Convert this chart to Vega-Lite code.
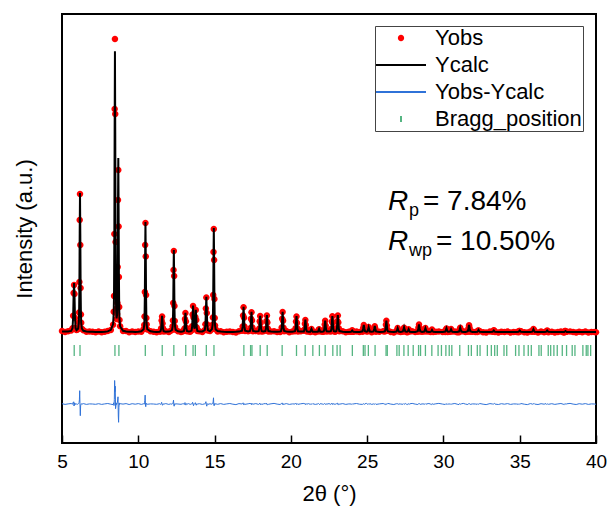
{
"$schema":"https://vega.github.io/schema/vega-lite/v6.json",
"width":534,"height":429,
"autosize":{"type":"none"},
"padding":{"left":62,"top":14,"right":16,"bottom":63},
"config":{"font":"Liberation Sans","view":{"stroke":"#000000","strokeWidth":2},"axis":{"grid":false}},
"datasets":{
"profile":[
{"x":5.0,"o":590,"c":560,"d":-6670},{"x":5.2,"o":510,"c":550,"d":-6740},{"x":5.4,"o":570,"c":560,"d":-6690},{"x":5.6,"o":660,"c":610,"d":-6650},
{"x":5.69,"o":870,"c":890,"d":-6720},{"x":5.73,"o":2120,"c":1970,"d":-6550},{"x":5.76,"o":4400,"c":4180,"d":-6480},{"x":5.79,"o":5200,"c":5400,"d":-6900},{"x":5.82,"o":4300,"c":4180,"d":-6580},{"x":5.85,"o":1890,"c":1970,"d":-6780},{"x":5.89,"o":930,"c":890,"d":-6660},{"x":5.95,"o":690,"c":690,"d":-6700},{"x":6.02,"o":750,"c":780,"d":-6730},
{"x":6.06,"o":870,"c":850,"d":-6680},{"x":6.10,"o":1460,"c":1400,"d":-6640},{"x":6.12,"o":2460,"c":2310,"d":-6550},{"x":6.14,"o":5500,"c":5090,"d":-6290},{"x":6.16,"o":11700,"c":10370,"d":-5370},{"x":6.18,"o":14300,"c":14400,"d":-6800},{"x":6.20,"o":9200,"c":10370,"d":-7870},{"x":6.22,"o":4900,"c":5090,"d":-6890},{"x":6.24,"o":2250,"c":2310,"d":-6760},{"x":6.26,"o":1430,"c":1400,"d":-6670},{"x":6.30,"o":830,"c":850,"d":-6720},
{"x":6.4,"o":665,"c":625,"d":-6660},{"x":6.6,"o":520,"c":560,"d":-6740},{"x":6.8,"o":540,"c":530,"d":-6690},{"x":7.0,"o":520,"c":520,"d":-6700},{"x":7.2,"o":480,"c":510,"d":-6730},{"x":7.4,"o":540,"c":510,"d":-6670},{"x":7.6,"o":470,"c":510,"d":-6740},{"x":7.8,"o":530,"c":520,"d":-6690},{"x":8.0,"o":610,"c":560,"d":-6650},{"x":8.2,"o":700,"c":720,"d":-6720},
{"x":8.35,"o":1230,"c":1290,"d":-6760},{"x":8.39,"o":2530,"c":2410,"d":-6580},{"x":8.41,"o":4090,"c":4240,"d":-6850},{"x":8.43,"o":10300,"c":9830,"d":-6230},{"x":8.45,"o":22800,"c":20450,"d":-4350},{"x":8.47,"o":29800,"c":28570,"d":-5470},{"x":8.49,"o":22300,"c":20520,"d":-4920},{"x":8.51,"o":9500,"c":9970,"d":-7170},{"x":8.53,"o":4200,"c":4460,"d":-6960},{"x":8.55,"o":2800,"c":2690,"d":-6590},{"x":8.58,"o":1800,"c":1860,"d":-6760},{"x":8.61,"o":2300,"c":2240,"d":-6640},{"x":8.63,"o":3400,"c":3230,"d":-6530},{"x":8.65,"o":7000,"c":6600,"d":-6300},{"x":8.67,"o":13700,"c":12980,"d":-5980},{"x":8.69,"o":16700,"c":17900,"d":-7900},{"x":8.71,"o":11050,"c":12880,"d":-8530},{"x":8.73,"o":6000,"c":6340,"d":-7040},{"x":8.75,"o":3000,"c":2890,"d":-6590},{"x":8.77,"o":1700,"c":1750,"d":-6750},{"x":8.81,"o":1080,"c":1050,"d":-6670},
{"x":9.0,"o":610,"c":620,"d":-6710},{"x":9.2,"o":600,"c":560,"d":-6660},{"x":9.4,"o":480,"c":530,"d":-6750},{"x":9.6,"o":550,"c":520,"d":-6670},{"x":9.8,"o":490,"c":510,"d":-6720},{"x":10.0,"o":560,"c":520,"d":-6660},{"x":10.2,"o":530,"c":570,"d":-6740},
{"x":10.35,"o":800,"c":775,"d":-6675},{"x":10.39,"o":1200,"c":1215,"d":-6715},{"x":10.41,"o":2050,"c":1930,"d":-6580},{"x":10.43,"o":4500,"c":4130,"d":-6330},{"x":10.45,"o":9200,"c":8310,"d":-5810},{"x":10.47,"o":11400,"c":11500,"d":-6800},{"x":10.49,"o":8040,"c":8310,"d":-6970},{"x":10.51,"o":4200,"c":4130,"d":-6630},{"x":10.53,"o":1900,"c":1930,"d":-6730},{"x":10.55,"o":1250,"c":1215,"d":-6665},{"x":10.59,"o":750,"c":775,"d":-6725},
{"x":10.8,"o":580,"c":570,"d":-6690},{"x":11.0,"o":520,"c":520,"d":-6700},{"x":11.2,"o":480,"c":510,"d":-6730},{"x":11.4,"o":560,"c":530,"d":-6670},
{"x":11.46,"o":540,"c":580,"d":-6740},{"x":11.50,"o":880,"c":830,"d":-6650},{"x":11.53,"o":1650,"c":1480,"d":-6530},{"x":11.56,"o":2050,"c":2130,"d":-6780},{"x":11.59,"o":1360,"c":1480,"d":-6820},{"x":11.62,"o":870,"c":830,"d":-6660},{"x":11.66,"o":560,"c":580,"d":-6720},
{"x":11.8,"o":570,"c":530,"d":-6660},{"x":12.0,"o":500,"c":540,"d":-6740},{"x":12.1,"o":590,"c":580,"d":-6690},
{"x":12.21,"o":690,"c":705,"d":-6715},{"x":12.25,"o":1070,"c":1030,"d":-6660},{"x":12.27,"o":1650,"c":1570,"d":-6620},{"x":12.29,"o":3400,"c":3210,"d":-6510},{"x":12.31,"o":6700,"c":6320,"d":-6320},{"x":12.33,"o":8600,"c":8700,"d":-6800},{"x":12.35,"o":6100,"c":6320,"d":-6920},{"x":12.37,"o":3100,"c":3210,"d":-6810},{"x":12.39,"o":1600,"c":1570,"d":-6670},{"x":12.41,"o":1000,"c":1030,"d":-6730},{"x":12.45,"o":720,"c":705,"d":-6685},
{"x":12.6,"o":570,"c":570,"d":-6700},{"x":12.8,"o":500,"c":530,"d":-6730},{"x":12.9,"o":560,"c":540,"d":-6680},
{"x":12.99,"o":620,"c":600,"d":-6680},{"x":13.03,"o":850,"c":890,"d":-6740},{"x":13.06,"o":1800,"c":1660,"d":-6560},{"x":13.09,"o":2400,"c":2430,"d":-6730},{"x":13.12,"o":1550,"c":1660,"d":-6810},{"x":13.15,"o":920,"c":890,"d":-6670},{"x":13.19,"o":580,"c":600,"d":-6720},
{"x":13.3,"o":580,"c":540,"d":-6660},{"x":13.4,"o":520,"c":560,"d":-6740},
{"x":13.49,"o":640,"c":630,"d":-6690},{"x":13.53,"o":1070,"c":1030,"d":-6660},{"x":13.56,"o":2250,"c":2080,"d":-6530},{"x":13.59,"o":3100,"c":3150,"d":-6750},{"x":13.62,"o":1950,"c":2120,"d":-6870},{"x":13.65,"o":1150,"c":1120,"d":-6670},{"x":13.68,"o":810,"c":830,"d":-6720},{"x":13.71,"o":1070,"c":1040,"d":-6670},{"x":13.74,"o":2000,"c":1870,"d":-6570},{"x":13.77,"o":2700,"c":2730,"d":-6730},{"x":13.80,"o":1700,"c":1820,"d":-6820},{"x":13.83,"o":960,"c":940,"d":-6680},{"x":13.87,"o":600,"c":610,"d":-6710},
{"x":14.0,"o":580,"c":550,"d":-6670},{"x":14.2,"o":510,"c":550,"d":-6740},
{"x":14.36,"o":700,"c":680,"d":-6680},{"x":14.40,"o":1270,"c":1210,"d":-6640},{"x":14.43,"o":2850,"c":2620,"d":-6470},{"x":14.46,"o":3950,"c":4030,"d":-6780},{"x":14.49,"o":2400,"c":2620,"d":-6920},{"x":14.52,"o":1250,"c":1210,"d":-6660},{"x":14.56,"o":650,"c":680,"d":-6730},
{"x":14.7,"o":600,"c":580,"d":-6680},
{"x":14.83,"o":770,"c":790,"d":-6720},{"x":14.87,"o":1220,"c":1180,"d":-6660},{"x":14.89,"o":1960,"c":1850,"d":-6590},{"x":14.91,"o":4200,"c":3930,"d":-6430},{"x":14.93,"o":8500,"c":7880,"d":-6080},{"x":14.95,"o":10800,"c":10900,"d":-6800},{"x":14.97,"o":7700,"c":7880,"d":-6880},{"x":14.99,"o":3800,"c":3930,"d":-6830},{"x":15.01,"o":1900,"c":1850,"d":-6650},{"x":15.03,"o":1150,"c":1180,"d":-6730},{"x":15.07,"o":780,"c":760,"d":-6680},
{"x":15.2,"o":560,"c":590,"d":-6730},{"x":15.4,"o":580,"c":540,"d":-6660},{"x":15.6,"o":480,"c":520,"d":-6740},{"x":15.8,"o":520,"c":510,"d":-6690},{"x":16.0,"o":560,"c":510,"d":-6650},{"x":16.2,"o":490,"c":510,"d":-6720},{"x":16.4,"o":460,"c":520,"d":-6760},{"x":16.6,"o":580,"c":540,"d":-6660},
{"x":16.80,"o":630,"c":630,"d":-6700},{"x":16.84,"o":1060,"c":1010,"d":-6650},{"x":16.87,"o":2140,"c":2020,"d":-6580},{"x":16.90,"o":2970,"c":3030,"d":-6760},{"x":16.93,"o":1920,"c":2020,"d":-6800},{"x":16.96,"o":1040,"c":1010,"d":-6670},{"x":17.00,"o":600,"c":630,"d":-6730},
{"x":17.2,"o":580,"c":560,"d":-6680},
{"x":17.32,"o":660,"c":600,"d":-6640},{"x":17.36,"o":900,"c":910,"d":-6710},{"x":17.39,"o":1820,"c":1720,"d":-6600},{"x":17.42,"o":2480,"c":2530,"d":-6750},{"x":17.45,"o":1650,"c":1720,"d":-6770},{"x":17.48,"o":940,"c":910,"d":-6670},{"x":17.52,"o":580,"c":600,"d":-6720},
{"x":17.7,"o":590,"c":550,"d":-6660},
{"x":17.89,"o":540,"c":580,"d":-6740},{"x":17.93,"o":840,"c":830,"d":-6690},{"x":17.96,"o":1570,"c":1480,"d":-6610},{"x":17.99,"o":2100,"c":2130,"d":-6730},{"x":18.02,"o":1400,"c":1480,"d":-6780},{"x":18.05,"o":860,"c":830,"d":-6670},{"x":18.09,"o":540,"c":580,"d":-6740},
{"x":18.2,"o":570,"c":560,"d":-6690},
{"x":18.33,"o":640,"c":590,"d":-6650},{"x":18.37,"o":820,"c":840,"d":-6720},{"x":18.40,"o":1600,"c":1520,"d":-6620},{"x":18.43,"o":2160,"c":2200,"d":-6740},{"x":18.46,"o":1450,"c":1520,"d":-6770},{"x":18.49,"o":840,"c":840,"d":-6700},{"x":18.53,"o":560,"c":590,"d":-6730},
{"x":18.7,"o":560,"c":540,"d":-6680},{"x":18.9,"o":580,"c":520,"d":-6640},{"x":19.1,"o":510,"c":520,"d":-6710},{"x":19.3,"o":500,"c":550,"d":-6750},
{"x":19.36,"o":630,"c":600,"d":-6670},{"x":19.40,"o":950,"c":910,"d":-6660},{"x":19.43,"o":1830,"c":1720,"d":-6590},{"x":19.46,"o":2500,"c":2530,"d":-6730},{"x":19.49,"o":1630,"c":1720,"d":-6790},{"x":19.52,"o":930,"c":910,"d":-6680},{"x":19.56,"o":580,"c":600,"d":-6720},
{"x":19.7,"o":590,"c":550,"d":-6660},{"x":19.9,"o":480,"c":520,"d":-6740},{"x":20.1,"o":540,"c":530,"d":-6690},
{"x":20.27,"o":580,"c":580,"d":-6700},{"x":20.31,"o":870,"c":820,"d":-6650},{"x":20.34,"o":1540,"c":1460,"d":-6620},{"x":20.37,"o":2060,"c":2100,"d":-6740},{"x":20.40,"o":1400,"c":1460,"d":-6760},{"x":20.43,"o":850,"c":820,"d":-6670},{"x":20.47,"o":550,"c":580,"d":-6730},
{"x":20.65,"o":580,"c":560,"d":-6680},
{"x":20.85,"o":620,"c":560,"d":-6640},{"x":20.89,"o":740,"c":750,"d":-6710},{"x":20.92,"o":1320,"c":1250,"d":-6630},{"x":20.95,"o":1700,"c":1750,"d":-6750},{"x":20.98,"o":1210,"c":1250,"d":-6740},{"x":21.01,"o":770,"c":750,"d":-6680},{"x":21.05,"o":540,"c":560,"d":-6720},
{"x":21.16,"o":570,"c":530,"d":-6660},
{"x":21.27,"o":490,"c":530,"d":-6740},{"x":21.31,"o":660,"c":650,"d":-6690},{"x":21.35,"o":800,"c":800,"d":-6700},{"x":21.39,"o":620,"c":650,"d":-6730},{"x":21.43,"o":560,"c":530,"d":-6670},
{"x":21.6,"o":480,"c":520,"d":-6740},
{"x":21.77,"o":540,"c":530,"d":-6690},{"x":21.81,"o":700,"c":650,"d":-6650},{"x":21.85,"o":780,"c":800,"d":-6720},{"x":21.89,"o":590,"c":650,"d":-6760},{"x":21.93,"o":570,"c":530,"d":-6660},
{"x":22.05,"o":530,"c":530,"d":-6700},
{"x":22.15,"o":530,"c":560,"d":-6730},{"x":22.19,"o":750,"c":730,"d":-6680},{"x":22.22,"o":1240,"c":1180,"d":-6640},{"x":22.25,"o":1620,"c":1630,"d":-6710},{"x":22.28,"o":1130,"c":1180,"d":-6750},{"x":22.31,"o":760,"c":730,"d":-6670},{"x":22.35,"o":540,"c":560,"d":-6720},
{"x":22.5,"o":580,"c":540,"d":-6660},
{"x":22.62,"o":540,"c":580,"d":-6740},{"x":22.66,"o":830,"c":820,"d":-6690},{"x":22.69,"o":1550,"c":1460,"d":-6610},{"x":22.72,"o":2080,"c":2100,"d":-6720},{"x":22.75,"o":1400,"c":1460,"d":-6760},{"x":22.78,"o":860,"c":820,"d":-6660},{"x":22.82,"o":580,"c":580,"d":-6700},
{"x":22.9,"o":530,"c":560,"d":-6730},
{"x":22.98,"o":610,"c":590,"d":-6680},{"x":23.02,"o":900,"c":840,"d":-6640},{"x":23.05,"o":1600,"c":1520,"d":-6620},{"x":23.08,"o":2150,"c":2200,"d":-6750},{"x":23.11,"o":1450,"c":1520,"d":-6770},{"x":23.14,"o":870,"c":840,"d":-6670},{"x":23.18,"o":570,"c":590,"d":-6720},
{"x":23.4,"o":570,"c":530,"d":-6660},{"x":23.6,"o":470,"c":510,"d":-6740},{"x":23.8,"o":515,"c":505,"d":-6690},
{"x":23.94,"o":515,"c":515,"d":-6700},{"x":23.98,"o":545,"c":575,"d":-6730},{"x":24.02,"o":680,"c":650,"d":-6670},{"x":24.06,"o":535,"c":575,"d":-6740},{"x":24.10,"o":525,"c":515,"d":-6690},
{"x":24.3,"o":555,"c":505,"d":-6650},{"x":24.5,"o":490,"c":510,"d":-6720},
{"x":24.70,"o":530,"c":570,"d":-6740},{"x":24.74,"o":890,"c":850,"d":-6660},{"x":24.78,"o":1200,"c":1200,"d":-6700},{"x":24.82,"o":820,"c":850,"d":-6730},{"x":24.86,"o":590,"c":570,"d":-6680},
{"x":24.95,"o":580,"c":520,"d":-6640},
{"x":25.02,"o":540,"c":550,"d":-6710},{"x":25.06,"o":685,"c":735,"d":-6750},{"x":25.10,"o":1000,"c":970,"d":-6670},{"x":25.14,"o":715,"c":735,"d":-6720},{"x":25.18,"o":590,"c":550,"d":-6660},
{"x":25.3,"o":480,"c":520,"d":-6740},
{"x":25.42,"o":570,"c":560,"d":-6690},{"x":25.46,"o":800,"c":800,"d":-6700},{"x":25.50,"o":1070,"c":1100,"d":-6730},{"x":25.54,"o":830,"c":800,"d":-6670},{"x":25.58,"o":520,"c":560,"d":-6740},
{"x":25.8,"o":520,"c":510,"d":-6690},{"x":26.05,"o":570,"c":520,"d":-6650},
{"x":26.16,"o":540,"c":560,"d":-6720},{"x":26.20,"o":670,"c":730,"d":-6760},{"x":26.23,"o":1220,"c":1180,"d":-6660},{"x":26.26,"o":1630,"c":1630,"d":-6700},{"x":26.29,"o":1150,"c":1180,"d":-6730},{"x":26.32,"o":750,"c":730,"d":-6680},{"x":26.36,"o":620,"c":560,"d":-6640},
{"x":26.55,"o":510,"c":520,"d":-6710},{"x":26.75,"o":455,"c":505,"d":-6750},
{"x":26.92,"o":570,"c":540,"d":-6670},{"x":26.96,"o":665,"c":685,"d":-6720},{"x":27.00,"o":910,"c":870,"d":-6660},{"x":27.04,"o":645,"c":685,"d":-6740},{"x":27.08,"o":550,"c":540,"d":-6690},
{"x":27.2,"o":510,"c":510,"d":-6700},
{"x":27.34,"o":520,"c":550,"d":-6730},{"x":27.38,"o":765,"c":735,"d":-6670},{"x":27.42,"o":930,"c":970,"d":-6740},{"x":27.46,"o":745,"c":735,"d":-6690},{"x":27.50,"o":600,"c":550,"d":-6650},
{"x":27.57,"o":495,"c":515,"d":-6720},
{"x":27.64,"o":470,"c":530,"d":-6760},{"x":27.68,"o":675,"c":635,"d":-6660},{"x":27.72,"o":770,"c":770,"d":-6700},{"x":27.76,"o":605,"c":635,"d":-6730},{"x":27.80,"o":550,"c":530,"d":-6680},
{"x":27.95,"o":565,"c":505,"d":-6640},{"x":28.15,"o":500,"c":510,"d":-6710},
{"x":28.32,"o":530,"c":580,"d":-6750},{"x":28.36,"o":915,"c":885,"d":-6670},{"x":28.40,"o":1250,"c":1270,"d":-6720},{"x":28.44,"o":925,"c":885,"d":-6660},{"x":28.48,"o":540,"c":580,"d":-6740},
{"x":28.6,"o":520,"c":510,"d":-6690},
{"x":28.74,"o":540,"c":540,"d":-6700},{"x":28.78,"o":655,"c":685,"d":-6730},{"x":28.82,"o":900,"c":870,"d":-6670},{"x":28.86,"o":645,"c":685,"d":-6740},{"x":28.90,"o":550,"c":540,"d":-6690},
{"x":29.05,"o":555,"c":505,"d":-6650},
{"x":29.17,"o":500,"c":520,"d":-6720},{"x":29.21,"o":540,"c":600,"d":-6760},{"x":29.25,"o":740,"c":700,"d":-6660},{"x":29.29,"o":600,"c":600,"d":-6700},{"x":29.33,"o":490,"c":520,"d":-6730},
{"x":29.5,"o":520,"c":500,"d":-6680},{"x":29.7,"o":560,"c":500,"d":-6640},{"x":29.95,"o":495,"c":505,"d":-6710},
{"x":30.12,"o":490,"c":540,"d":-6750},{"x":30.16,"o":715,"c":685,"d":-6670},{"x":30.20,"o":850,"c":870,"d":-6720},{"x":30.24,"o":725,"c":685,"d":-6660},{"x":30.28,"o":500,"c":540,"d":-6740},
{"x":30.35,"o":525,"c":515,"d":-6690},
{"x":30.42,"o":530,"c":530,"d":-6700},{"x":30.46,"o":605,"c":635,"d":-6730},{"x":30.50,"o":800,"c":770,"d":-6670},{"x":30.54,"o":595,"c":635,"d":-6740},{"x":30.58,"o":540,"c":530,"d":-6690},
{"x":30.75,"o":555,"c":505,"d":-6650},{"x":30.9,"o":485,"c":505,"d":-6720},
{"x":31.02,"o":485,"c":545,"d":-6760},{"x":31.06,"o":755,"c":715,"d":-6660},{"x":31.10,"o":930,"c":930,"d":-6700},{"x":31.14,"o":685,"c":715,"d":-6730},{"x":31.18,"o":565,"c":545,"d":-6680},
{"x":31.3,"o":565,"c":505,"d":-6640},{"x":31.45,"o":500,"c":510,"d":-6710},
{"x":31.60,"o":520,"c":570,"d":-6750},{"x":31.64,"o":880,"c":850,"d":-6670},{"x":31.68,"o":1180,"c":1200,"d":-6720},{"x":31.72,"o":890,"c":850,"d":-6660},{"x":31.76,"o":530,"c":570,"d":-6740},
{"x":31.9,"o":515,"c":505,"d":-6690},{"x":32.1,"o":500,"c":500,"d":-6700},
{"x":32.22,"o":490,"c":520,"d":-6730},{"x":32.26,"o":630,"c":600,"d":-6670},{"x":32.30,"o":660,"c":700,"d":-6740},{"x":32.34,"o":610,"c":600,"d":-6690},{"x":32.38,"o":570,"c":520,"d":-6650},
{"x":32.6,"o":480,"c":500,"d":-6720},{"x":32.8,"o":440,"c":500,"d":-6760},{"x":33.05,"o":540,"c":500,"d":-6660},
{"x":33.22,"o":515,"c":515,"d":-6700},{"x":33.26,"o":545,"c":575,"d":-6730},{"x":33.30,"o":670,"c":650,"d":-6680},{"x":33.34,"o":635,"c":575,"d":-6640},{"x":33.38,"o":505,"c":515,"d":-6710},
{"x":33.6,"o":450,"c":500,"d":-6750},{"x":33.8,"o":535,"c":505,"d":-6670},{"x":34.0,"o":490,"c":510,"d":-6720},{"x":34.2,"o":540,"c":500,"d":-6660},{"x":34.4,"o":460,"c":500,"d":-6740},{"x":34.6,"o":510,"c":500,"d":-6690},{"x":34.8,"o":500,"c":500,"d":-6700},
{"x":34.92,"o":485,"c":515,"d":-6730},{"x":34.96,"o":605,"c":575,"d":-6670},{"x":35.00,"o":610,"c":650,"d":-6740},{"x":35.04,"o":585,"c":575,"d":-6690},{"x":35.08,"o":565,"c":515,"d":-6650},
{"x":35.3,"o":485,"c":505,"d":-6720},{"x":35.5,"o":445,"c":505,"d":-6760},{"x":35.7,"o":540,"c":500,"d":-6660},
{"x":35.82,"o":530,"c":530,"d":-6700},{"x":35.86,"o":605,"c":635,"d":-6730},{"x":35.90,"o":790,"c":770,"d":-6680},{"x":35.94,"o":695,"c":635,"d":-6640},{"x":35.98,"o":520,"c":530,"d":-6710},
{"x":36.2,"o":450,"c":500,"d":-6750},{"x":36.4,"o":540,"c":510,"d":-6670},{"x":36.6,"o":480,"c":500,"d":-6720},
{"x":36.72,"o":555,"c":515,"d":-6660},{"x":36.76,"o":535,"c":575,"d":-6740},{"x":36.80,"o":660,"c":650,"d":-6690},{"x":36.84,"o":575,"c":575,"d":-6700},{"x":36.88,"o":485,"c":515,"d":-6730},
{"x":37.1,"o":535,"c":505,"d":-6670},{"x":37.3,"o":460,"c":500,"d":-6740},{"x":37.5,"o":510,"c":500,"d":-6690},{"x":37.7,"o":550,"c":500,"d":-6650},{"x":37.85,"o":485,"c":505,"d":-6720},
{"x":37.92,"o":450,"c":510,"d":-6760},{"x":37.96,"o":590,"c":550,"d":-6660},{"x":38.00,"o":600,"c":600,"d":-6700},{"x":38.04,"o":520,"c":550,"d":-6730},{"x":38.08,"o":530,"c":510,"d":-6680},
{"x":38.3,"o":560,"c":500,"d":-6640},{"x":38.5,"o":490,"c":500,"d":-6710},{"x":38.7,"o":455,"c":505,"d":-6750},{"x":38.9,"o":530,"c":500,"d":-6670},{"x":39.1,"o":480,"c":500,"d":-6720},{"x":39.3,"o":545,"c":505,"d":-6660},{"x":39.5,"o":460,"c":500,"d":-6740},{"x":39.7,"o":510,"c":500,"d":-6690},{"x":39.9,"o":500,"c":500,"d":-6700},{"x":40.0,"o":470,"c":500,"d":-6730}
],
"bragg":[
{"x":5.80},{"x":6.18},{"x":8.47},{"x":8.73},{"x":10.46},{"x":11.57},{"x":12.33},{"x":13.11},{"x":13.59},{"x":13.74},{"x":14.46},{"x":14.96},{"x":16.92},{"x":17.36},{"x":17.45},{"x":17.99},{"x":18.45},{"x":19.43},{"x":20.37},{"x":20.94},{"x":21.44},{"x":21.87},{"x":22.25},{"x":22.75},{"x":23.03},{"x":23.23},{"x":24.03},{"x":24.75},{"x":24.86},{"x":25.08},{"x":25.52},{"x":26.24},{"x":26.32},{"x":26.95},{"x":27.10},{"x":27.41},{"x":27.69},{"x":28.02},{"x":28.37},{"x":28.50},{"x":28.82},{"x":29.24},{"x":29.65},{"x":29.87},{"x":30.16},{"x":30.38},{"x":30.55},{"x":31.07},{"x":31.64},{"x":31.83},{"x":32.22},{"x":32.40},{"x":32.88},{"x":33.14},{"x":33.36},{"x":33.53},{"x":33.97},{"x":34.15},{"x":34.73},{"x":34.95},{"x":35.28},{"x":35.56},{"x":35.76},{"x":36.26},{"x":36.41},{"x":36.87},{"x":37.03},{"x":37.24},{"x":37.46},{"x":37.79},{"x":38.07},{"x":38.44},{"x":38.62},{"x":39.14},{"x":39.36},{"x":39.47},{"x":39.65}
]
},
"layer":[
{"data":{"name":"profile"},
 "mark":{"type":"point","filled":true,"size":36,"opacity":1},
 "encoding":{
  "x":{"field":"x","type":"quantitative","title":"2θ (°)","scale":{"domain":[5,40],"nice":false,"zero":false},
   "axis":{"values":[5,7.5,10,12.5,15,17.5,20,22.5,25,27.5,30,32.5,35,37.5,40],"labelExpr":"datum.value % 5 === 0 ? datum.label : ''",
    "tickSize":{"condition":{"test":"datum.value % 5 === 0","value":-8},"value":-4},
    "tickColor":"#000000","tickWidth":1.5,"domain":false,"labelFlush":false,"labelFontSize":19,"labelColor":"#000000","labelPadding":17,
    "titleFontSize":22,"titleFontWeight":"normal","titleColor":"#000000","titlePadding":12}},
  "y":{"field":"o","type":"quantitative","title":"Intensity (a.u.)","scale":{"domain":[-10600,32300],"nice":false,"zero":false},
   "axis":{"labels":false,"ticks":false,"domain":false,"titleFontSize":22,"titleFontWeight":"normal","titleColor":"#000000","titlePadding":26}},
  "color":{"datum":"Yobs","type":"nominal",
   "scale":{"domain":["Yobs","Ycalc","Yobs-Ycalc","Bragg_position"],"range":["#ff0000","#000000","#2f72d8","#55b582"]},
   "legend":{"orient":"none","legendX":313,"legendY":12,"title":null,"padding":1,"rowPadding":5,
    "labelFont":"Liberation Sans","labelFontSize":22,"labelColor":"#000000","labelLimit":300,
    "symbolSize":16,"symbolStrokeWidth":2,"symbolOffset":14,"labelOffset":23,"symbolOpacity":1,
    "strokeColor":"#444444","fillColor":"#ffffff"}},
  "shape":{"datum":"Yobs","type":"nominal",
   "scale":{"domain":["Yobs","Ycalc","Yobs-Ycalc","Bragg_position"],"range":["M-1.08,0A1.08,1.08,0,1,0,1.08,0A1.08,1.08,0,1,0,-1.08,0Z","M-12.5,0L12.5,0","M-12.5,0L12.5,0","M0,-1.5L0,1.5"]},
   "legend":{"orient":"none","legendX":313,"legendY":12,"title":null,"padding":1,"rowPadding":5,
    "labelFont":"Liberation Sans","labelFontSize":22,"labelColor":"#000000","labelLimit":300,
    "symbolSize":16,"symbolStrokeWidth":2,"symbolOffset":14,"labelOffset":23,"symbolOpacity":1,
    "strokeColor":"#444444","fillColor":"#ffffff"}}}},
{"data":{"name":"profile"},
 "mark":{"type":"line","strokeWidth":2},
 "encoding":{"x":{"field":"x","type":"quantitative","title":"2θ (°)"},"y":{"field":"c","type":"quantitative","title":"Intensity (a.u.)"},"color":{"datum":"Ycalc","type":"nominal"}}},
{"data":{"name":"profile"},
 "mark":{"type":"line","strokeWidth":1},
 "encoding":{"x":{"field":"x","type":"quantitative","title":"2θ (°)"},"y":{"field":"d","type":"quantitative","title":"Intensity (a.u.)"},"color":{"datum":"Yobs-Ycalc","type":"nominal"}}},
{"data":{"name":"bragg"},
 "mark":{"type":"rule","strokeWidth":1.3},
 "encoding":{"x":{"field":"x","type":"quantitative","title":"2θ (°)"},"y":{"datum":-800,"type":"quantitative"},"y2":{"datum":-1900},"color":{"datum":"Bragg_position","type":"nominal"}}},
{"data":{"values":[{"x":26.36,"y":12700,"t":"R"},{"x":26.36,"y":8700,"t":"R"}]},
 "mark":{"type":"text","fontSize":28,"fontStyle":"italic","align":"left","baseline":"alphabetic","color":"#000000","font":"Liberation Sans"},
 "encoding":{"x":{"field":"x","type":"quantitative"},"y":{"field":"y","type":"quantitative"},"text":{"field":"t"}}},
{"data":{"values":[{"x":27.74,"y":12100,"t":"p"},{"x":27.74,"y":8100,"t":"wp"}]},
 "mark":{"type":"text","fontSize":18,"align":"left","baseline":"alphabetic","color":"#000000","font":"Liberation Sans"},
 "encoding":{"x":{"field":"x","type":"quantitative"},"y":{"field":"y","type":"quantitative"},"text":{"field":"t"}}},
{"data":{"values":[{"x":28.66,"y":12700,"t":"= 7.84%"},{"x":29.51,"y":8700,"t":"= 10.50%"}]},
 "mark":{"type":"text","fontSize":28,"align":"left","baseline":"alphabetic","color":"#000000","font":"Liberation Sans"},
 "encoding":{"x":{"field":"x","type":"quantitative"},"y":{"field":"y","type":"quantitative"},"text":{"field":"t"}}}
]
}
